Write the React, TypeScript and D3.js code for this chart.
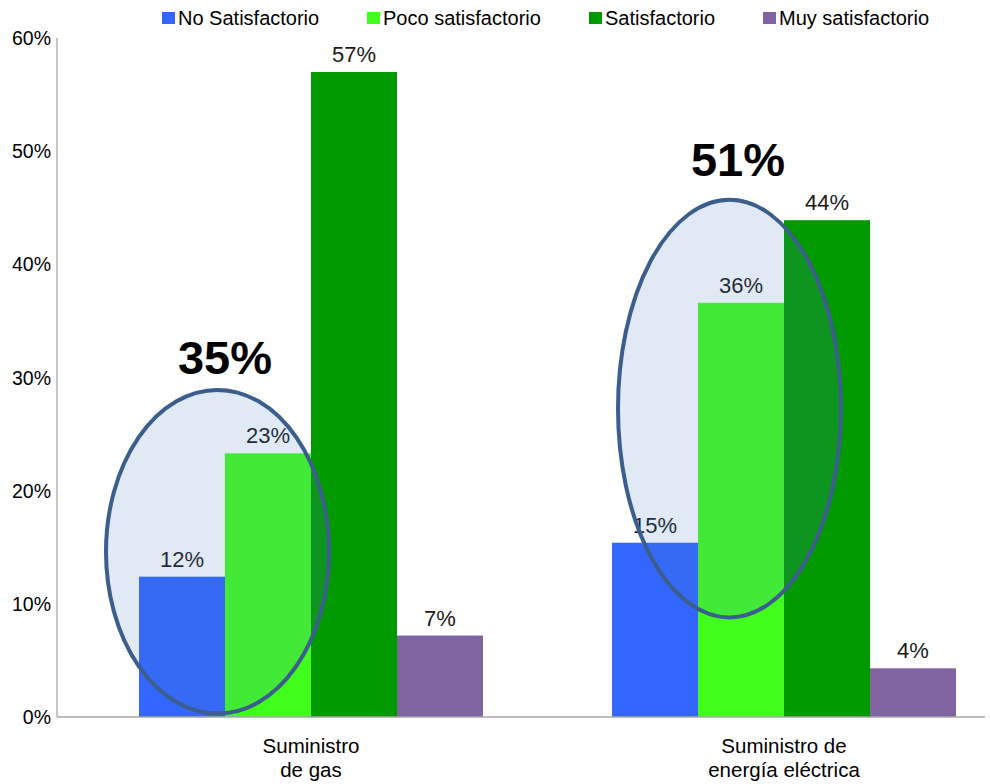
import * as d3 from "d3";
import { useEffect, useRef } from "react";

const categories = ["Suministro\nde gas", "Suministro de\nenergía eléctrica"];
const seriesNames = ["No Satisfactorio", "Poco satisfactorio", "Satisfactorio", "Muy satisfactorio"];
const seriesColors = ["#3366FF", "#40FF1C", "#009900", "#8064A2"];
// values per series, one per category (%)
const noSatisfactorio = [12.4, 15.4];
const pocoSatisfactorio = [23.3, 36.6];
const satisfactorio = [57.0, 43.9];
const muySatisfactorio = [7.2, 4.3];
const valueLabels = [["12%", "15%"], ["23%", "36%"], ["57%", "44%"], ["7%", "4%"]];
const yTicks = [0, 10, 20, 30, 40, 50, 60];

// highlighted groups (ellipse annotation): total text, y-extent in %
const highlightTotals = ["35%", "51%"];
const highlightLow = [0.3, 8.8];
const highlightHigh = [28.9, 45.7];
const highlightTextAt = [30.3, 47.8];

const W = 990;
const H = 784;
const FONT = "Liberation Sans, Arial, sans-serif";

export default function App() {
  const ref = useRef<SVGSVGElement | null>(null);

  useEffect(() => {
    const svg = d3.select(ref.current);
    svg.selectAll("*").remove();
    const series = [noSatisfactorio, pocoSatisfactorio, satisfactorio, muySatisfactorio];

    const y = d3.scaleLinear().domain([0, 60]).range([717, 38]);
    const x0 = d3.scaleBand().domain(categories).range([74.5, 1020.5]);
    const x1 = d3
      .scaleBand()
      .domain(seriesNames)
      .range([64.5, 408.5]);

    // axes lines
    svg.append("line")
      .attr("x1", 57).attr("x2", 57).attr("y1", y(60)).attr("y2", y(0))
      .attr("stroke", "#B3B3B3").attr("stroke-width", 1.5);

    svg.append("g")
      .selectAll("text")
      .data(yTicks)
      .join("text")
      .attr("x", 51)
      .attr("y", (d) => y(d) + 7)
      .attr("text-anchor", "end")
      .attr("font-family", FONT)
      .attr("font-size", 19.5)
      .attr("fill", "#000")
      .text((d) => d + "%");

    // bars
    const bars = svg.append("g");
    series.forEach((vals, si) => {
      bars.selectAll(null)
        .data(vals)
        .join("rect")
        .attr("x", (_, ci) => (x0(categories[ci]) as number) + (x1(seriesNames[si]) as number))
        .attr("y", (d) => y(d))
        .attr("width", x1.bandwidth())
        .attr("height", (d) => y(0) - y(d))
        .attr("fill", seriesColors[si]);
    });

    svg.append("line")
      .attr("x1", 57).attr("x2", 985).attr("y1", y(0)).attr("y2", y(0))
      .attr("stroke", "#A6A6A6").attr("stroke-width", 1.5);

    // value labels
    const labels = svg.append("g");
    series.forEach((vals, si) => {
      labels.selectAll(null)
        .data(vals)
        .join("text")
        .attr("x", (_, ci) => (x0(categories[ci]) as number) + (x1(seriesNames[si]) as number) + x1.bandwidth() / 2)
        .attr("y", (d) => y(d) - 10)
        .attr("text-anchor", "middle")
        .attr("font-family", FONT)
        .attr("font-size", 22)
        .attr("fill", "#1A1A1A")
        .text((_, ci) => valueLabels[si][ci]);
    });

    // category labels
    categories.forEach((c) => {
      const cx = (x0(c) as number) + x0.bandwidth() / 2;
      const t = svg.append("text")
        .attr("x", cx)
        .attr("text-anchor", "middle")
        .attr("font-family", FONT)
        .attr("font-size", 20.5)
        .attr("fill", "#000");
      c.split("\n").forEach((line, i) => {
        t.append("tspan").attr("x", cx).attr("y", 753 + i * 24).text(line);
      });
    });

    // ellipse annotations, shifted relative to the second bar of each group
    const ellipseShift = [-7.5, 31.5];
    const textShift = [0, 40];
    categories.forEach((c, ci) => {
      const bx = (x0(c) as number) + (x1(seriesNames[1]) as number);
      const cy = (y(highlightLow[ci]) + y(highlightHigh[ci])) / 2;
      const ry = (y(highlightLow[ci]) - y(highlightHigh[ci])) / 2;
      svg.append("ellipse")
        .attr("cx", bx + ellipseShift[ci])
        .attr("cy", cy)
        .attr("rx", 111.5)
        .attr("ry", ry)
        .attr("fill", "rgba(79,129,189,0.17)")
        .attr("stroke", "#3B5E8C")
        .attr("stroke-width", 4);
      svg.append("text")
        .attr("x", bx + textShift[ci])
        .attr("y", y(highlightTextAt[ci]))
        .attr("text-anchor", "middle")
        .attr("font-family", FONT)
        .attr("font-weight", "bold")
        .attr("font-size", 47)
        .attr("fill", "#000")
        .text(highlightTotals[ci]);
    });

    // legend
    const legendX = [162, 367, 589, 763];
    const lg = svg.append("g");
    seriesNames.forEach((name, i) => {
      lg.append("rect")
        .attr("x", legendX[i])
        .attr("y", 12)
        .attr("width", 13)
        .attr("height", 12)
        .attr("fill", seriesColors[i]);
      lg.append("text")
        .attr("x", legendX[i] + 16)
        .attr("y", 25)
        .attr("font-family", FONT)
        .attr("font-size", 20)
        .attr("fill", "#000")
        .text(name);
    });
  }, []);

  return (
    <svg
      ref={ref}
      width={W}
      height={H}
      style={{ position: "absolute", left: 0, top: 0, background: "#fff" }}
    ></svg>
  );
}
